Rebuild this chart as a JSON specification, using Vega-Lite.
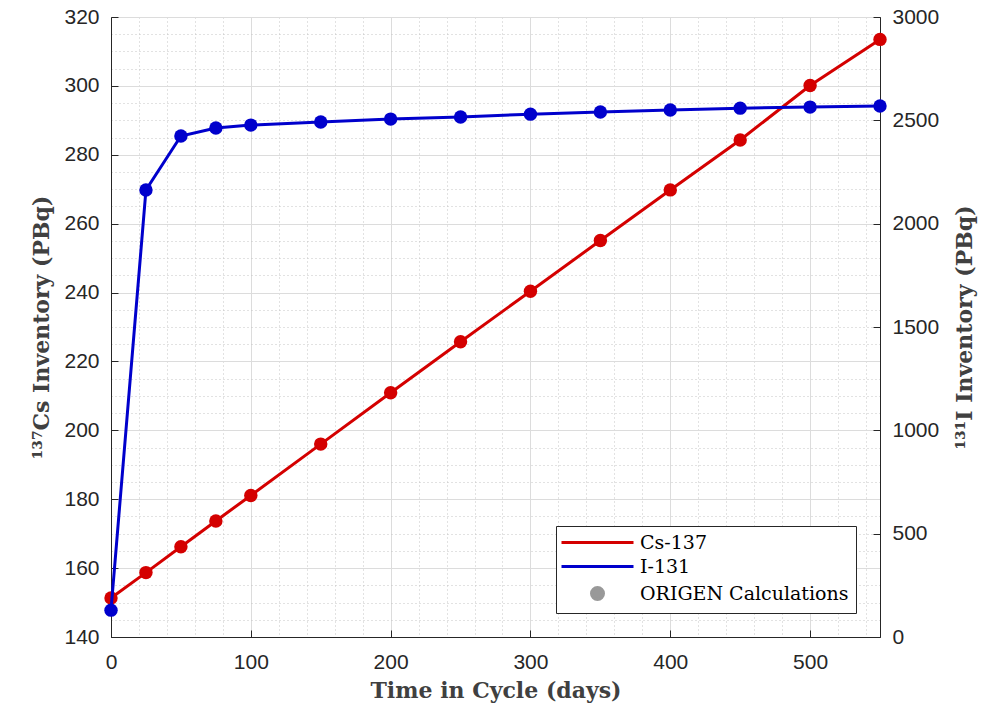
{
  "$schema": "https://vega.github.io/schema/vega-lite/v6.json",
  "width": 769,
  "height": 620,
  "autosize": {"type": "none"},
  "padding": {"left": 111, "top": 17, "right": 102, "bottom": 70},
  "background": "white",
  "config": {
    "view": {"stroke": "#262626", "strokeWidth": 1},
    "axis": {
      "labelFont": "Liberation Sans",
      "labelFontSize": 21,
      "labelColor": "#262626",
      "labelFlush": false,
      "labelOverlap": false,
      "titleFont": "DejaVu Serif",
      "titleFontWeight": "bold",
      "titleFontSize": 22,
      "titleColor": "#404040",
      "domainColor": "#262626",
      "ticks": true,
      "tickSize": -7,
      "tickColor": "#262626"
    }
  },
  "data": {
    "values": [
      {"t": 0, "series": "Cs-137", "value": 151.3},
      {"t": 25, "series": "Cs-137", "value": 158.7},
      {"t": 50, "series": "Cs-137", "value": 166.2},
      {"t": 75, "series": "Cs-137", "value": 173.7},
      {"t": 100, "series": "Cs-137", "value": 181.1},
      {"t": 150, "series": "Cs-137", "value": 196.0},
      {"t": 200, "series": "Cs-137", "value": 210.9},
      {"t": 250, "series": "Cs-137", "value": 225.7},
      {"t": 300, "series": "Cs-137", "value": 240.4},
      {"t": 350, "series": "Cs-137", "value": 255.1},
      {"t": 400, "series": "Cs-137", "value": 269.8},
      {"t": 450, "series": "Cs-137", "value": 284.3},
      {"t": 500, "series": "Cs-137", "value": 300.1},
      {"t": 550, "series": "Cs-137", "value": 313.5},
      {"t": 0, "series": "I-131", "value": 130},
      {"t": 25, "series": "I-131", "value": 2163},
      {"t": 50, "series": "I-131", "value": 2424},
      {"t": 75, "series": "I-131", "value": 2463},
      {"t": 100, "series": "I-131", "value": 2477},
      {"t": 150, "series": "I-131", "value": 2492},
      {"t": 200, "series": "I-131", "value": 2506},
      {"t": 250, "series": "I-131", "value": 2516},
      {"t": 300, "series": "I-131", "value": 2530},
      {"t": 350, "series": "I-131", "value": 2540},
      {"t": 400, "series": "I-131", "value": 2550},
      {"t": 450, "series": "I-131", "value": 2559},
      {"t": 500, "series": "I-131", "value": 2564},
      {"t": 550, "series": "I-131", "value": 2569}
    ]
  },
  "encoding": {
    "x": {
      "field": "t",
      "type": "quantitative",
      "scale": {"domain": [0, 550], "nice": false, "zero": false},
      "axis": {
        "title": "Time in Cycle (days)",
        "values": [0,20,40,60,80,100,120,140,160,180,200,220,240,260,280,300,320,340,360,380,400,420,440,460,480,500,520,540],
        "labelExpr": "datum.value % 100 === 0 ? datum.label : ''",
        "labelPadding": 21,
        "titlePadding": 8,
        "tickOpacity": {"condition": {"test": "datum.value % 100 === 0", "value": 1}, "value": 0},
        "gridColor": {"condition": {"test": "datum.value % 100 === 0", "value": "#dcdcdc"}, "value": "#c4c4c4"},
        "gridDash": {"condition": {"test": "datum.value % 100 === 0", "value": []}, "value": [1, 3]}
      }
    },
    "color": {
      "field": "series",
      "type": "nominal",
      "scale": {"domain": ["Cs-137", "I-131", "ORIGEN Calculations"], "range": ["#d40000", "#0000cc", "#999999"]},
      "legend": {
        "title": null,
        "orient": "bottom-right",
        "offset": 24,
        "fillColor": "white",
        "strokeColor": "#262626",
        "padding": 7,
        "labelFont": "DejaVu Serif",
        "labelFontSize": 19,
        "labelColor": "#000000",
        "labelLimit": 400,
        "symbolOffset": 25,
        "labelOffset": 33,
        "symbolType": "circle",
        "symbolSize": 144,
        "symbolStrokeWidth": 3,
        "rowPadding": 4,
        "encode": {
          "symbols": {
            "update": {
              "shape": {"signal": "datum.value === 'ORIGEN Calculations' ? 'circle' : 'M-6,0H6'"},
              "size": {"value": 144},
              "fill": {"signal": "datum.value === 'ORIGEN Calculations' ? '#999999' : 'transparent'"},
              "stroke": {"signal": "datum.value === 'ORIGEN Calculations' ? 'transparent' : (datum.value === 'Cs-137' ? '#d40000' : '#0000cc')"},
              "strokeWidth": {"value": 3},
              "opacity": {"value": 1}
            }
          }
        }
      }
    }
  },
  "layer": [
    {
      "transform": [{"filter": "datum.series === 'Cs-137'"}],
      "encoding": {
        "y": {
          "field": "value",
          "type": "quantitative",
          "scale": {"domain": [140, 320], "nice": false, "zero": false},
          "axis": {
            "title": "¹³⁷Cs Inventory (PBq)",
            "orient": "left",
            "values": [140,145,150,155,160,165,170,175,180,185,190,195,200,205,210,215,220,225,230,235,240,245,250,255,260,265,270,275,280,285,290,295,300,305,310,315,320],
            "labelExpr": "datum.value % 20 === 0 ? datum.label : ''",
            "labelPadding": 19,
            "titlePadding": 10,
            "tickOpacity": {"condition": {"test": "datum.value % 20 === 0", "value": 1}, "value": 0},
            "gridColor": {"condition": {"test": "datum.value % 20 === 0", "value": "#dcdcdc"}, "value": "#c4c4c4"},
            "gridDash": {"condition": {"test": "datum.value % 20 === 0", "value": []}, "value": [1, 3]}
          }
        }
      },
      "layer": [
        {"mark": {"type": "line", "strokeWidth": 3}},
        {"mark": {"type": "point", "filled": true, "size": 180, "opacity": 1}}
      ]
    },
    {
      "transform": [{"filter": "datum.series === 'I-131'"}],
      "encoding": {
        "y": {
          "field": "value",
          "type": "quantitative",
          "scale": {"domain": [0, 3000], "nice": false},
          "axis": {
            "title": "¹³¹I Inventory (PBq)",
            "orient": "right",
            "format": "d",
            "values": [0, 500, 1000, 1500, 2000, 2500, 3000],
            "grid": false,
            "labelPadding": 19,
            "titlePadding": 16,
            "titleAngle": 270,
            "titleBaseline": "top"
          }
        }
      },
      "layer": [
        {"mark": {"type": "line", "strokeWidth": 3}},
        {"mark": {"type": "point", "filled": true, "size": 180, "opacity": 1}}
      ]
    }
  ],
  "resolve": {"scale": {"y": "independent"}}
}
